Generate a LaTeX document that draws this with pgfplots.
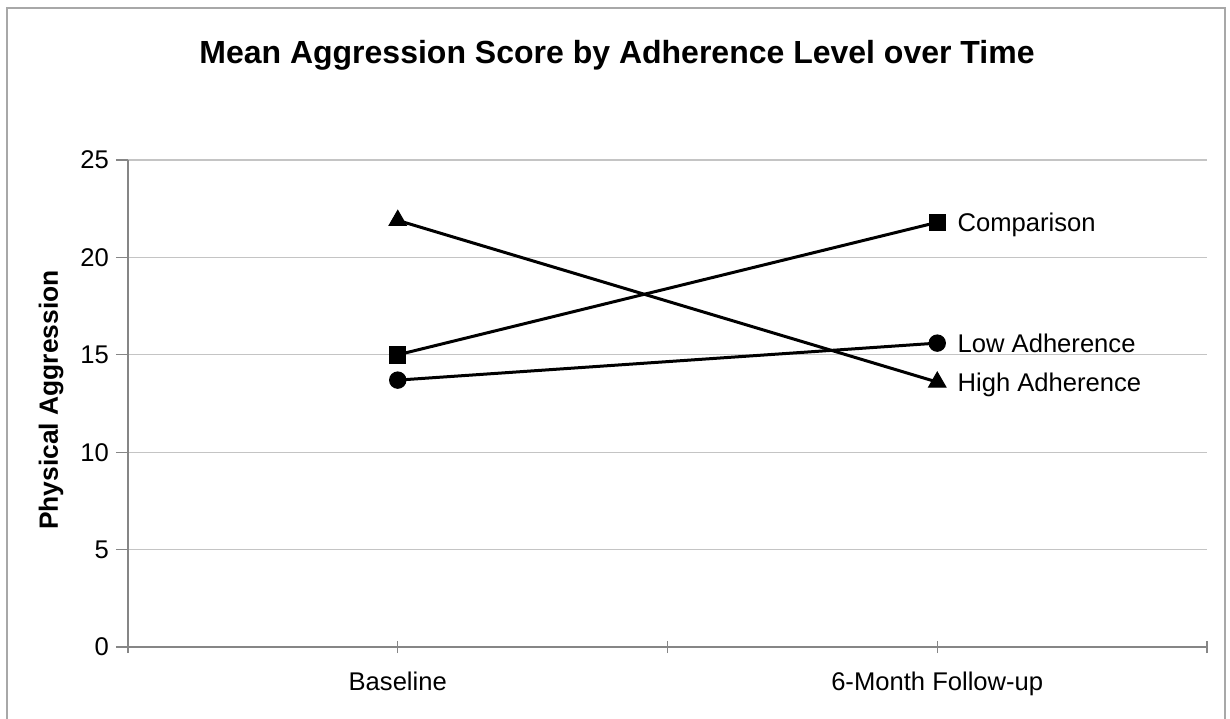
\documentclass[border=0pt]{standalone}
\usepackage{fontspec}
\setmainfont{Liberation Sans}
\usepackage{pgfplots}
\pgfplotsset{compat=1.18}
\definecolor{axisgray}{HTML}{868686}
\definecolor{gridgray}{HTML}{C4C4C4}
\definecolor{framegray}{HTML}{A8A8A8}
\begin{document}
\begin{tikzpicture}
\useasboundingbox (0pt,0pt) rectangle (615pt,359pt);
\draw[framegray, line width=1pt] (3.5pt,-5pt) -- (3.5pt,355pt) -- (612.5pt,355pt) -- (612.5pt,-5pt);
\node[font=\fontsize{16}{19}\selectfont\bfseries] at (308.5pt,331.5pt) {Mean Aggression Score by Adherence Level over Time};
\node[font=\fontsize{13.2}{15}\selectfont\bfseries, rotate=90] at (25.5pt,159pt) {Physical Aggression};
\begin{axis}[
  at={(64pt,35.5pt)}, anchor=south west,
  scale only axis, width=539.5pt, height=243.5pt,
  xmin=-0.5, xmax=1.5, ymin=0, ymax=25,
  axis lines*=left,
  axis line style={draw=axisgray, line width=0.8pt},
  xtick={-0.5,0,0.5,1,1.5},
  xticklabels={,Baseline,,6-Month Follow-up,},
  ytick={0,5,10,15,20,25},
  ymajorgrids, grid style={gridgray, line width=0.6pt},
  xtick align=center, ytick align=outside,
  major tick length=6pt,
  tick style={axisgray, line width=0.6pt},
  tick label style={font=\fontsize{12.8}{14}\selectfont},
  xticklabel style={yshift=-6pt},
  /pgf/number format/assume math mode=true,
  clip=false,
]
\addplot[black, line width=1.5pt, mark=square*, mark size=4.1pt, mark options={solid, line width=0.5pt}] coordinates {(0,15.0) (1,21.8)};
\addplot[black, line width=1.5pt, mark=*, mark size=4.1pt, mark options={solid, line width=0.5pt}] coordinates {(0,13.7) (1,15.6)};
\addplot[black, line width=1.5pt, mark=triangle*, mark size=5pt, mark options={solid, line width=0.5pt}] coordinates {(0,21.9) (1,13.6)};
\node[anchor=base west, inner sep=0pt, xshift=10pt, yshift=-4.6pt, font=\fontsize{12.8}{14}\selectfont] at (axis cs:1,21.8) {Comparison};
\node[anchor=base west, inner sep=0pt, xshift=10pt, yshift=-4.6pt, font=\fontsize{12.8}{14}\selectfont] at (axis cs:1,15.6) {Low Adherence};
\node[anchor=base west, inner sep=0pt, xshift=10pt, yshift=-4.6pt, font=\fontsize{12.8}{14}\selectfont] at (axis cs:1,13.6) {High Adherence};
\end{axis}
\end{tikzpicture}
\end{document}
